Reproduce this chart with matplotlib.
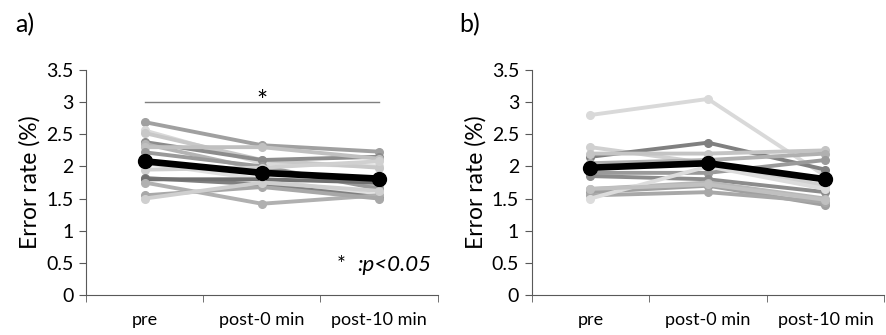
import numpy as np
import matplotlib.pyplot as plt

plt.rcParams['font.family'] = ['Lato', 'DejaVu Sans']

conditions = ["pre", "post-0 min", "post-10 min"]

# panel a: individual subjects (pre, post-0, post-10)
subj_a = [
    [2.69, 2.33, 2.23],
    [2.56, 2.05, 2.00],
    [2.52, 2.10, 1.98],
    [2.38, 2.10, 2.15],
    [2.35, 1.95, 1.70],
    [2.30, 2.30, 2.12],
    [2.22, 2.00, 1.65],
    [2.05, 1.80, 1.55],
    [1.95, 1.98, 2.08],
    [1.82, 1.72, 1.52],
    [1.80, 1.80, 1.75],
    [1.75, 1.42, 1.55],
    [1.55, 1.68, 1.50],
    [1.50, 1.75, 1.62],
]
colors_a = ["#a0a0a0", "#d9d9d9", "#c8c8c8", "#8c8c8c", "#b4b4b4", "#c0c0c0", "#9a9a9a",
            "#e0e0e0", "#d0d0d0", "#808080", "#707070", "#b0b0b0", "#a8a8a8", "#cfcfcf"]
mean_a = [2.08, 1.90, 1.81]

# panel b
subj_b = [
    [2.80, 3.05, 1.85],
    [2.30, 2.05, 1.70],
    [2.15, 2.37, 1.95],
    [2.20, 2.20, 2.25],
    [2.05, 2.10, 2.20],
    [1.90, 1.90, 2.10],
    [1.85, 1.80, 1.60],
    [1.65, 1.75, 1.50],
    [1.60, 1.70, 1.40],
    [1.55, 1.60, 1.45],
    [1.50, 2.00, 1.65],
    [1.65, 1.72, 1.48],
]
colors_b = ["#d9d9d9", "#d0d0d0", "#808080", "#c4c4c4", "#b0b0b0", "#9a9a9a", "#8c8c8c",
            "#b8b8b8", "#a0a0a0", "#a8a8a8", "#dcdcdc", "#c0c0c0"]
mean_b = [1.98, 2.05, 1.80]

fig = plt.figure(figsize=(8.86, 3.35), dpi=100)
ax_a = fig.add_axes([0.097, 0.1194, 0.397, 0.6716])
ax_b = fig.add_axes([0.600, 0.1194, 0.398, 0.6716])

x = np.arange(len(conditions))


def draw(ax, subj, cols, mean):
    for vals, c in zip(subj, cols):
        ax.plot(x, vals, color=c, lw=2.8, marker="o", ms=5.5, zorder=2)
    ax.plot(x, mean, color="black", lw=4.8, marker="o", ms=10, zorder=3)
    ax.set_xlim(-0.5, 2.5)
    ax.set_ylim(0, 3.5)
    ax.set_yticks(np.arange(0, 3.6, 0.5))
    ax.set_yticklabels(["0", "0.5", "1", "1.5", "2", "2.5", "3", "3.5"])
    ax.set_xticks(x)
    ax.set_xticklabels(conditions)
    ax.set_xticks([-0.5, 0.5, 1.5, 2.5], minor=True)
    ax.tick_params(axis="x", which="major", length=0, pad=12, labelsize=13)
    ax.tick_params(axis="x", which="minor", length=5, color="#595959")
    ax.tick_params(axis="y", length=5, color="#595959", labelsize=14, pad=4)
    for s in ["top", "right"]:
        ax.spines[s].set_visible(False)
    for s in ["left", "bottom"]:
        ax.spines[s].set_color("#595959")
    ax.set_ylabel("Error rate (%)", fontsize=16.5, labelpad=4)


draw(ax_a, subj_a, colors_a, mean_a)
draw(ax_b, subj_b, colors_b, mean_b)

# significance bar
ax_a.plot([0, 2], [3.0, 3.0], color="#7f7f7f", lw=1)
ax_a.text(1, 3.0, "*", ha="center", va="center", fontsize=19)
ax_a.text(1.64, 0.47, "*", ha="left", va="center", fontsize=15)
ax_a.text(1.81, 0.47, ":p<0.05", ha="left", va="center", fontsize=16, style="italic")

fig.text(0.017, 0.905, "a)", fontsize=18)
fig.text(0.518, 0.905, "b)", fontsize=18)

plt.savefig("out.png", dpi=100)
